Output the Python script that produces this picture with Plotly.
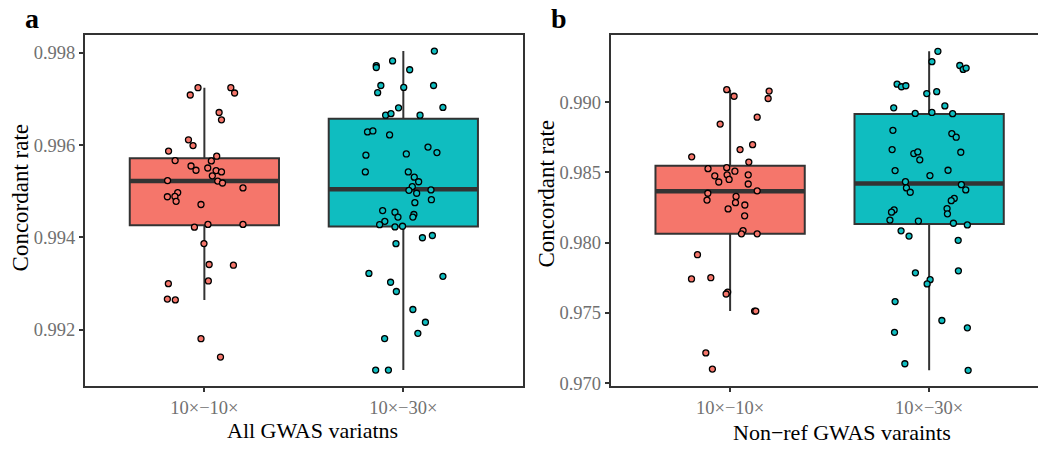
import numpy as np
import plotly.graph_objects as go

# ---------------- data ----------------
categories = ["10×−10×", "10×−30×"]

# panel a : All GWAS variants
a_g1_vals = [0.997243, 0.997243, 0.997128, 0.997085, 0.996706, 0.996547, 0.996115, 0.995989,
             0.995870, 0.995759, 0.995664, 0.995657, 0.995547, 0.995455, 0.995504, 0.995447,
             0.995419, 0.995334, 0.995232, 0.995221, 0.995179, 0.995072, 0.994972, 0.994881,
             0.994887, 0.994781, 0.994713, 0.994223, 0.994281, 0.994281, 0.993866, 0.993413,
             0.993398, 0.993057, 0.992998, 0.992664, 0.992647, 0.991806, 0.991409]
a_g1_jit = [-0.032, 0.133, 0.152, -0.071, 0.074, 0.086, -0.080, -0.057, -0.180, 0.062, -0.147,
            0.035, -0.067, -0.042, 0.017, 0.059, 0.086, 0.040, -0.185, 0.067, 0.091, 0.194,
            -0.134, -0.186, -0.148, -0.142, -0.017, -0.050, 0.018, 0.194, -0.002, 0.024, 0.146,
            0.020, -0.181, -0.186, -0.146, -0.017, 0.081]
a_g2_vals = [0.998036, 0.997823, 0.997723, 0.997681, 0.997632, 0.997291, 0.997249, 0.997291,
             0.997136, 0.996808, 0.996817, 0.996647, 0.996681, 0.996647, 0.996285, 0.996306,
             0.996221, 0.995957, 0.995838, 0.995781, 0.995808, 0.995419, 0.995419, 0.995306,
             0.995206, 0.995100, 0.995021, 0.994957, 0.995029, 0.994817, 0.994753, 0.994582,
             0.994546, 0.994440, 0.994497, 0.994440, 0.994348, 0.994276, 0.994227, 0.994242,
             0.993993, 0.994042, 0.993865, 0.993221, 0.993157, 0.993029, 0.992829, 0.992439,
             0.992163, 0.991922, 0.991808, 0.991127, 0.991127]
a_g2_jit = [0.156, -0.054, -0.136, -0.136, 0.032, -0.113, 0.002, 0.152, -0.129, -0.024, 0.199,
            -0.089, -0.062, 0.084, -0.180, -0.153, -0.069, 0.124, 0.169, -0.188, 0.015, -0.191,
            0.025, 0.055, 0.077, 0.045, 0.028, 0.067, 0.139, 0.141, 0.058, -0.104, -0.042,
            -0.027, 0.053, 0.048, -0.093, -0.119, -0.042, -0.004, 0.096, 0.146, -0.037, -0.173,
            0.199, -0.064, -0.035, 0.048, 0.111, 0.073, -0.094, -0.139, -0.075]

# panel b : Non-ref GWAS variants
b_g1_vals = [0.990888, 0.990420, 0.990790, 0.990259, 0.988930, 0.988441, 0.986972, 0.986622,
             0.986105, 0.985734, 0.985266, 0.985336, 0.984755, 0.984825, 0.984497, 0.985084,
             0.984315, 0.984825, 0.984175, 0.983685, 0.983517, 0.983028, 0.983287, 0.982846,
             0.982678, 0.982399, 0.981909, 0.980860, 0.980629, 0.980629, 0.979140, 0.977413,
             0.977503, 0.976483, 0.976343, 0.975126, 0.975126, 0.972147, 0.971000]
b_g1_jit = [-0.017, 0.020, 0.196, 0.191, 0.136, -0.050, 0.113, 0.050, -0.193, 0.094, -0.111,
            -0.017, -0.077, -0.015, -0.005, 0.024, -0.057, 0.091, 0.091, 0.136, -0.112, -0.116,
            0.030, 0.027, 0.074, -0.010, 0.073, 0.065, 0.057, 0.136, -0.164, -0.194, -0.097,
            -0.012, -0.020, 0.123, 0.129, -0.122, -0.089]
b_g2_vals = [0.993622, 0.992881, 0.992608, 0.992329, 0.992427, 0.991280, 0.991098, 0.991168,
             0.990608, 0.990748, 0.989734, 0.989594, 0.989196, 0.989266, 0.989182, 0.987993,
             0.987762, 0.987504, 0.986622, 0.986343, 0.986455, 0.986434, 0.985895, 0.985126,
             0.984776, 0.985154, 0.984336, 0.983895, 0.983587, 0.984126, 0.983755, 0.983147,
             0.982986, 0.982329, 0.982168, 0.982427, 0.982049, 0.981608, 0.981538, 0.981378,
             0.981259, 0.980839, 0.980469, 0.980161, 0.977853, 0.977993, 0.977364, 0.977063,
             0.975804, 0.974455, 0.973615, 0.973937, 0.971378, 0.970909]
b_g2_jit = [0.044, 0.014, 0.154, 0.171, 0.186, -0.161, -0.139, -0.117, -0.012, 0.038, 0.079,
            -0.178, -0.070, 0.014, 0.118, -0.182, 0.114, 0.136, -0.186, -0.077, -0.057, 0.159,
            -0.047, -0.171, 0.004, 0.095, -0.119, -0.114, -0.095, 0.162, 0.184, 0.126, 0.111,
            -0.176, -0.189, 0.090, 0.092, -0.197, -0.054, 0.122, 0.192, -0.141, -0.101, 0.146,
            -0.069, 0.147, 0.005, -0.010, -0.171, 0.064, -0.174, 0.192, -0.122, 0.196]

# box statistics [group1, group2]
a_q1 = [0.994264, 0.994234]
a_med = [0.995221, 0.995043]
a_q3 = [0.995717, 0.996568]
a_lo = [0.992647, 0.991127]
a_hi = [0.997243, 0.998036]

b_q1 = [0.980629, 0.981329]
b_med = [0.983657, 0.984217]
b_q3 = [0.985476, 0.989161]
b_lo = [0.975126, 0.970909]
b_hi = [0.990888, 0.993615]

# ---------------- style ----------------
W, H = 1038, 453
FILLS = ["#F5766B", "#0FBDC0"]
EDGE = "#333333"
FONT = "Liberation Serif"
BOXW = 0.75
pos = [1, 2]


def px(x):
    return x / W


def py(y):
    return 1 - y / H


fig = go.Figure()


def add_panel(xa, ya, q1, med, q3, lo, hi, groups):
    for i in range(2):
        fig.add_trace(go.Box(
            x=[pos[i]], q1=[q1[i]], median=[med[i]], q3=[q3[i]],
            lowerfence=[lo[i]], upperfence=[hi[i]], width=BOXW,
            fillcolor=FILLS[i], line=dict(color=EDGE, width=2),
            whiskerwidth=0, boxpoints=False, xaxis=xa, yaxis=ya,
            hoverinfo="skip"))
        fig.add_trace(go.Scatter(
            x=[pos[i] - BOXW / 2, pos[i] + BOXW / 2], y=[med[i], med[i]],
            mode="lines", line=dict(color=EDGE, width=4.5),
            xaxis=xa, yaxis=ya, hoverinfo="skip"))
    for i, (vals, jit) in enumerate(groups):
        fig.add_trace(go.Scatter(
            x=pos[i] + np.array(jit), y=vals, mode="markers",
            marker=dict(size=6, color=FILLS[i],
                        line=dict(color="black", width=1.3)),
            xaxis=xa, yaxis=ya))


add_panel("x", "y", a_q1, a_med, a_q3, a_lo, a_hi,
          [(a_g1_vals, a_g1_jit), (a_g2_vals, a_g2_jit)])
add_panel("x2", "y2", b_q1, b_med, b_q3, b_lo, b_hi,
          [(b_g1_vals, b_g1_jit), (b_g2_vals, b_g2_jit)])

tickfont = dict(family=FONT, size=18.5, color="#707070")
common_x = dict(tickvals=pos, ticktext=categories, showline=True, mirror=True,
                linecolor=EDGE, linewidth=2, ticks="outside", ticklen=4,
                tickcolor=EDGE, tickwidth=1.5, showgrid=False, zeroline=False,
                tickfont=tickfont)
common_y = dict(showline=True, linecolor=EDGE, linewidth=2, ticks="outside",
                ticklen=4, tickcolor=EDGE, tickwidth=1.5, showgrid=False,
                zeroline=False, tickfont=tickfont, tickformat=".3f")

y_dom = [py(392.5), py(36)]
fig.update_layout(
    width=W, height=H, margin=dict(l=0, r=0, t=0, b=0),
    paper_bgcolor="white", plot_bgcolor="white", showlegend=False,
    xaxis=dict(domain=[px(85), px(522.7)], range=[0.4, 2.6], anchor="y", **common_x),
    yaxis=dict(domain=y_dom, range=[0.990791, 0.998377], anchor="x", mirror=True,
               tick0=0.992, dtick=0.002, **common_y),
    xaxis2=dict(domain=[px(610.7), 1.0], range=[0.4, 2.547], anchor="y2", **common_x),
    yaxis2=dict(domain=y_dom, range=[0.969825, 0.994755], anchor="x2", mirror=False,
                tick0=0.970, dtick=0.005, **common_y),
)

ann = [
    dict(text="<b>a</b>", x=px(32), y=py(19), size=28),
    dict(text="<b>b</b>", x=px(559), y=py(19), size=28),
    dict(text="All GWAS variatns", x=px(312), y=py(438), size=22),
    dict(text="Non−ref GWAS varaints", x=px(842), y=py(440), size=22),
]
for a in ann:
    fig.add_annotation(text=a["text"], x=a["x"], y=a["y"], xref="paper", yref="paper",
                       showarrow=False, xanchor="center", yanchor="middle",
                       font=dict(family=FONT, size=a["size"], color="black"))
for xc, yc in [(20, 201), (547, 197)]:
    fig.add_annotation(text="Concordant rate", x=px(xc), y=py(yc), xref="paper",
                       yref="paper", showarrow=False, textangle=-90,
                       xanchor="center", yanchor="middle",
                       font=dict(family=FONT, size=23, color="black"))

fig.write_html("out.html")
